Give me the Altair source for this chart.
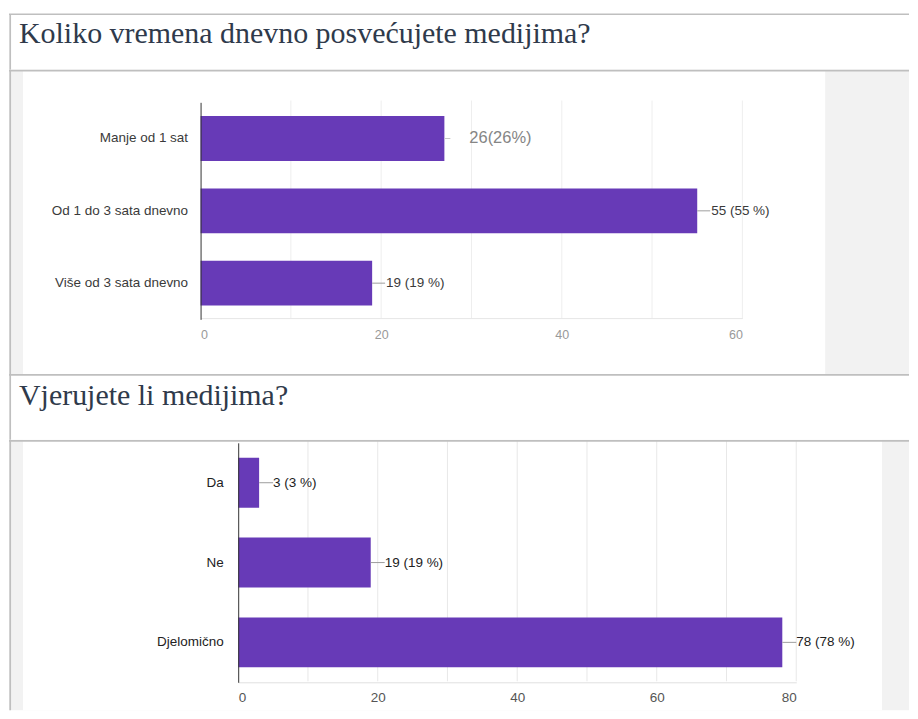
import altair as alt
import pandas as pd

# ---------------- data ----------------
title1 = "Koliko vremena dnevno posvećujete medijima?"
title2 = "Vjerujete li medijima?"

cats1 = ["Manje od 1 sat", "Od 1 do 3 sata dnevno", "Više od 3 sata dnevno"]
vals1 = [27, 55, 19]
labels1 = ["26(26%)", "55 (55 %)", "19 (19 %)"]
ticks1 = [0, 20, 40, 60]
grid1 = [10, 20, 30, 40, 50, 60]

cats2 = ["Da", "Ne", "Djelomično"]
vals2 = [3, 19, 78]
labels2 = ["3 (3 %)", "19 (19 %)", "78 (78 %)"]
ticks2 = [0, 20, 40, 60, 80]
grid2 = [10, 20, 30, 40, 50, 60, 70, 80]

# ---------------- style ----------------
W = 902
FONT = "Liberation Sans"
SERIF = "Liberation Serif"
BORDER = "#bfbfbf"
PURPLE = "#673ab7"
GRAY_BG = "#f2f2f2"
TITLE_COLOR = "#2f3a4b"

one = pd.DataFrame({"k": [0]})


def box(x1, x2, y1, y2, color):
    return alt.Chart(one).mark_rect(color=color).encode(
        x=alt.value(x1), x2=alt.value(x2), y=alt.value(y1), y2=alt.value(y2))


def hline(y):
    return alt.Chart(one).mark_rule(color=BORDER, strokeWidth=1.7).encode(
        x=alt.value(0), x2=alt.value(W), y=alt.value(y))


def vline(h):
    return alt.Chart(one).mark_rule(color=BORDER, strokeWidth=1.7).encode(
        x=alt.value(1.2), y=alt.value(0), y2=alt.value(h))


def title_panel(text, h, line_y, base_y):
    t = alt.Chart(pd.DataFrame({"t": [text]})).mark_text(
        font=SERIF, fontSize=30, color=TITLE_COLOR, align="left",
        baseline="alphabetic").encode(
        text="t:N", x=alt.value(10), y=alt.value(base_y))
    return alt.layer(
        box(0, W, line_y, h, "white"), t, hline(line_y),
        alt.Chart(one).mark_rule(color=BORDER, strokeWidth=1.7).encode(
            x=alt.value(1.2), y=alt.value(line_y), y2=alt.value(h)),
    ).properties(width=W, height=h)


def bar_panel(cats, vals, labels, ticks, grid, h, white_x2, yrange, xrange,
              pad, axis_x_off, axis_y_off, ylab_pad, xlab_pad, fs, tick_fs,
              ylab_color, tick_color, lab_color, grid_color, base_color,
              grid_top, special_first=False):
    df = pd.DataFrame({"cat": cats, "val": vals, "lab": labels})
    xs = alt.Scale(domain=[0, ticks[-1]], range=xrange, nice=False)
    ysc = alt.Scale(range=yrange, paddingInner=pad, paddingOuter=pad / 2)
    X = alt.X("val:Q", scale=xs, axis=alt.Axis(
        title=None, offset=axis_y_off, values=ticks, grid=False, ticks=False,
        domainColor=base_color, labelPadding=xlab_pad, labelFont=FONT,
        labelFontSize=tick_fs, labelColor=tick_color, format="d", zindex=1))
    Y = alt.Y("cat:N", sort=cats, scale=ysc, axis=alt.Axis(
        title=None, offset=axis_x_off, domainColor="#333333", ticks=False,
        labelPadding=ylab_pad, labelFont=FONT, labelFontSize=fs,
        labelColor=ylab_color, labelLimit=400, zindex=2))

    gdf = pd.DataFrame({"val": grid})
    gridl = alt.Chart(gdf).mark_rule(color=grid_color, strokeWidth=1).encode(
        x=X, y=alt.value(grid_top), y2=alt.value(yrange[1] - 1))

    base = alt.Chart(df)
    bars = base.mark_bar(color=PURPLE).encode(x=X, y=Y)
    layers = [box(0, W, 0, h, GRAY_BG), box(14, white_x2, 0, h, "white"),
              gridl, bars]
    if special_first:
        normal = base.transform_filter(alt.datum.cat != cats[0])
        first = base.transform_filter(alt.datum.cat == cats[0])
        layers += [
            normal.mark_rule(color="#9e9e9e", x2Offset=13).encode(
                x=X, x2="val:Q", y=Y),
            normal.mark_text(align="left", baseline="middle", dx=14, font=FONT,
                             fontSize=fs, color=lab_color).encode(
                x=X, y=Y, text="lab:N"),
            first.mark_rule(color="#c8c8c8", x2Offset=6).encode(
                x=X, x2="val:Q", y=Y),
            first.mark_text(align="left", baseline="middle", dx=25, font=FONT,
                            fontSize=16.5, color="#858585").encode(
                x=X, y=Y, text="lab:N"),
        ]
    else:
        layers += [
            base.mark_rule(color="#9e9e9e", x2Offset=14).encode(
                x=X, x2="val:Q", y=Y),
            base.mark_text(align="left", baseline="middle", dx=14, font=FONT,
                           fontSize=fs, color=lab_color).encode(
                x=X, y=Y, text="lab:N"),
        ]
    layers += [hline(1), vline(h)]
    return alt.layer(*layers).properties(width=W, height=h)


p1 = title_panel(title1, 61, 5.5, 34)
p2 = bar_panel(cats1, vals1, labels1, ticks1, grid1, 305, 818,
               [32.75, 250.25], [192, 735], 0.38, -192, -56, 13, 10, 13.5, 12.5,
               "#3a3a3a", "#999999", "#3a3a3a", "#eeeeee", "#e6e6e6", 31,
               special_first=True)
p3 = title_panel(title2, 66, 1, 31)
p4 = bar_panel(cats2, vals2, labels2, ticks2, grid2, 271, 875,
               [3, 243], [229.7, 789], 0.375, -229.7, -28, 15, 8, 13.5, 13.5,
               "#222222", "#555555", "#222222", "#e8e8e8", "#e0e0e0", 1)

chart = alt.vconcat(p1, p2, p3, p4, spacing=0, bounds="flush").properties(
    padding=0, background="white").configure_view(stroke=None)

chart.save("out.html", embed_options={"renderer": "svg", "actions": False})
